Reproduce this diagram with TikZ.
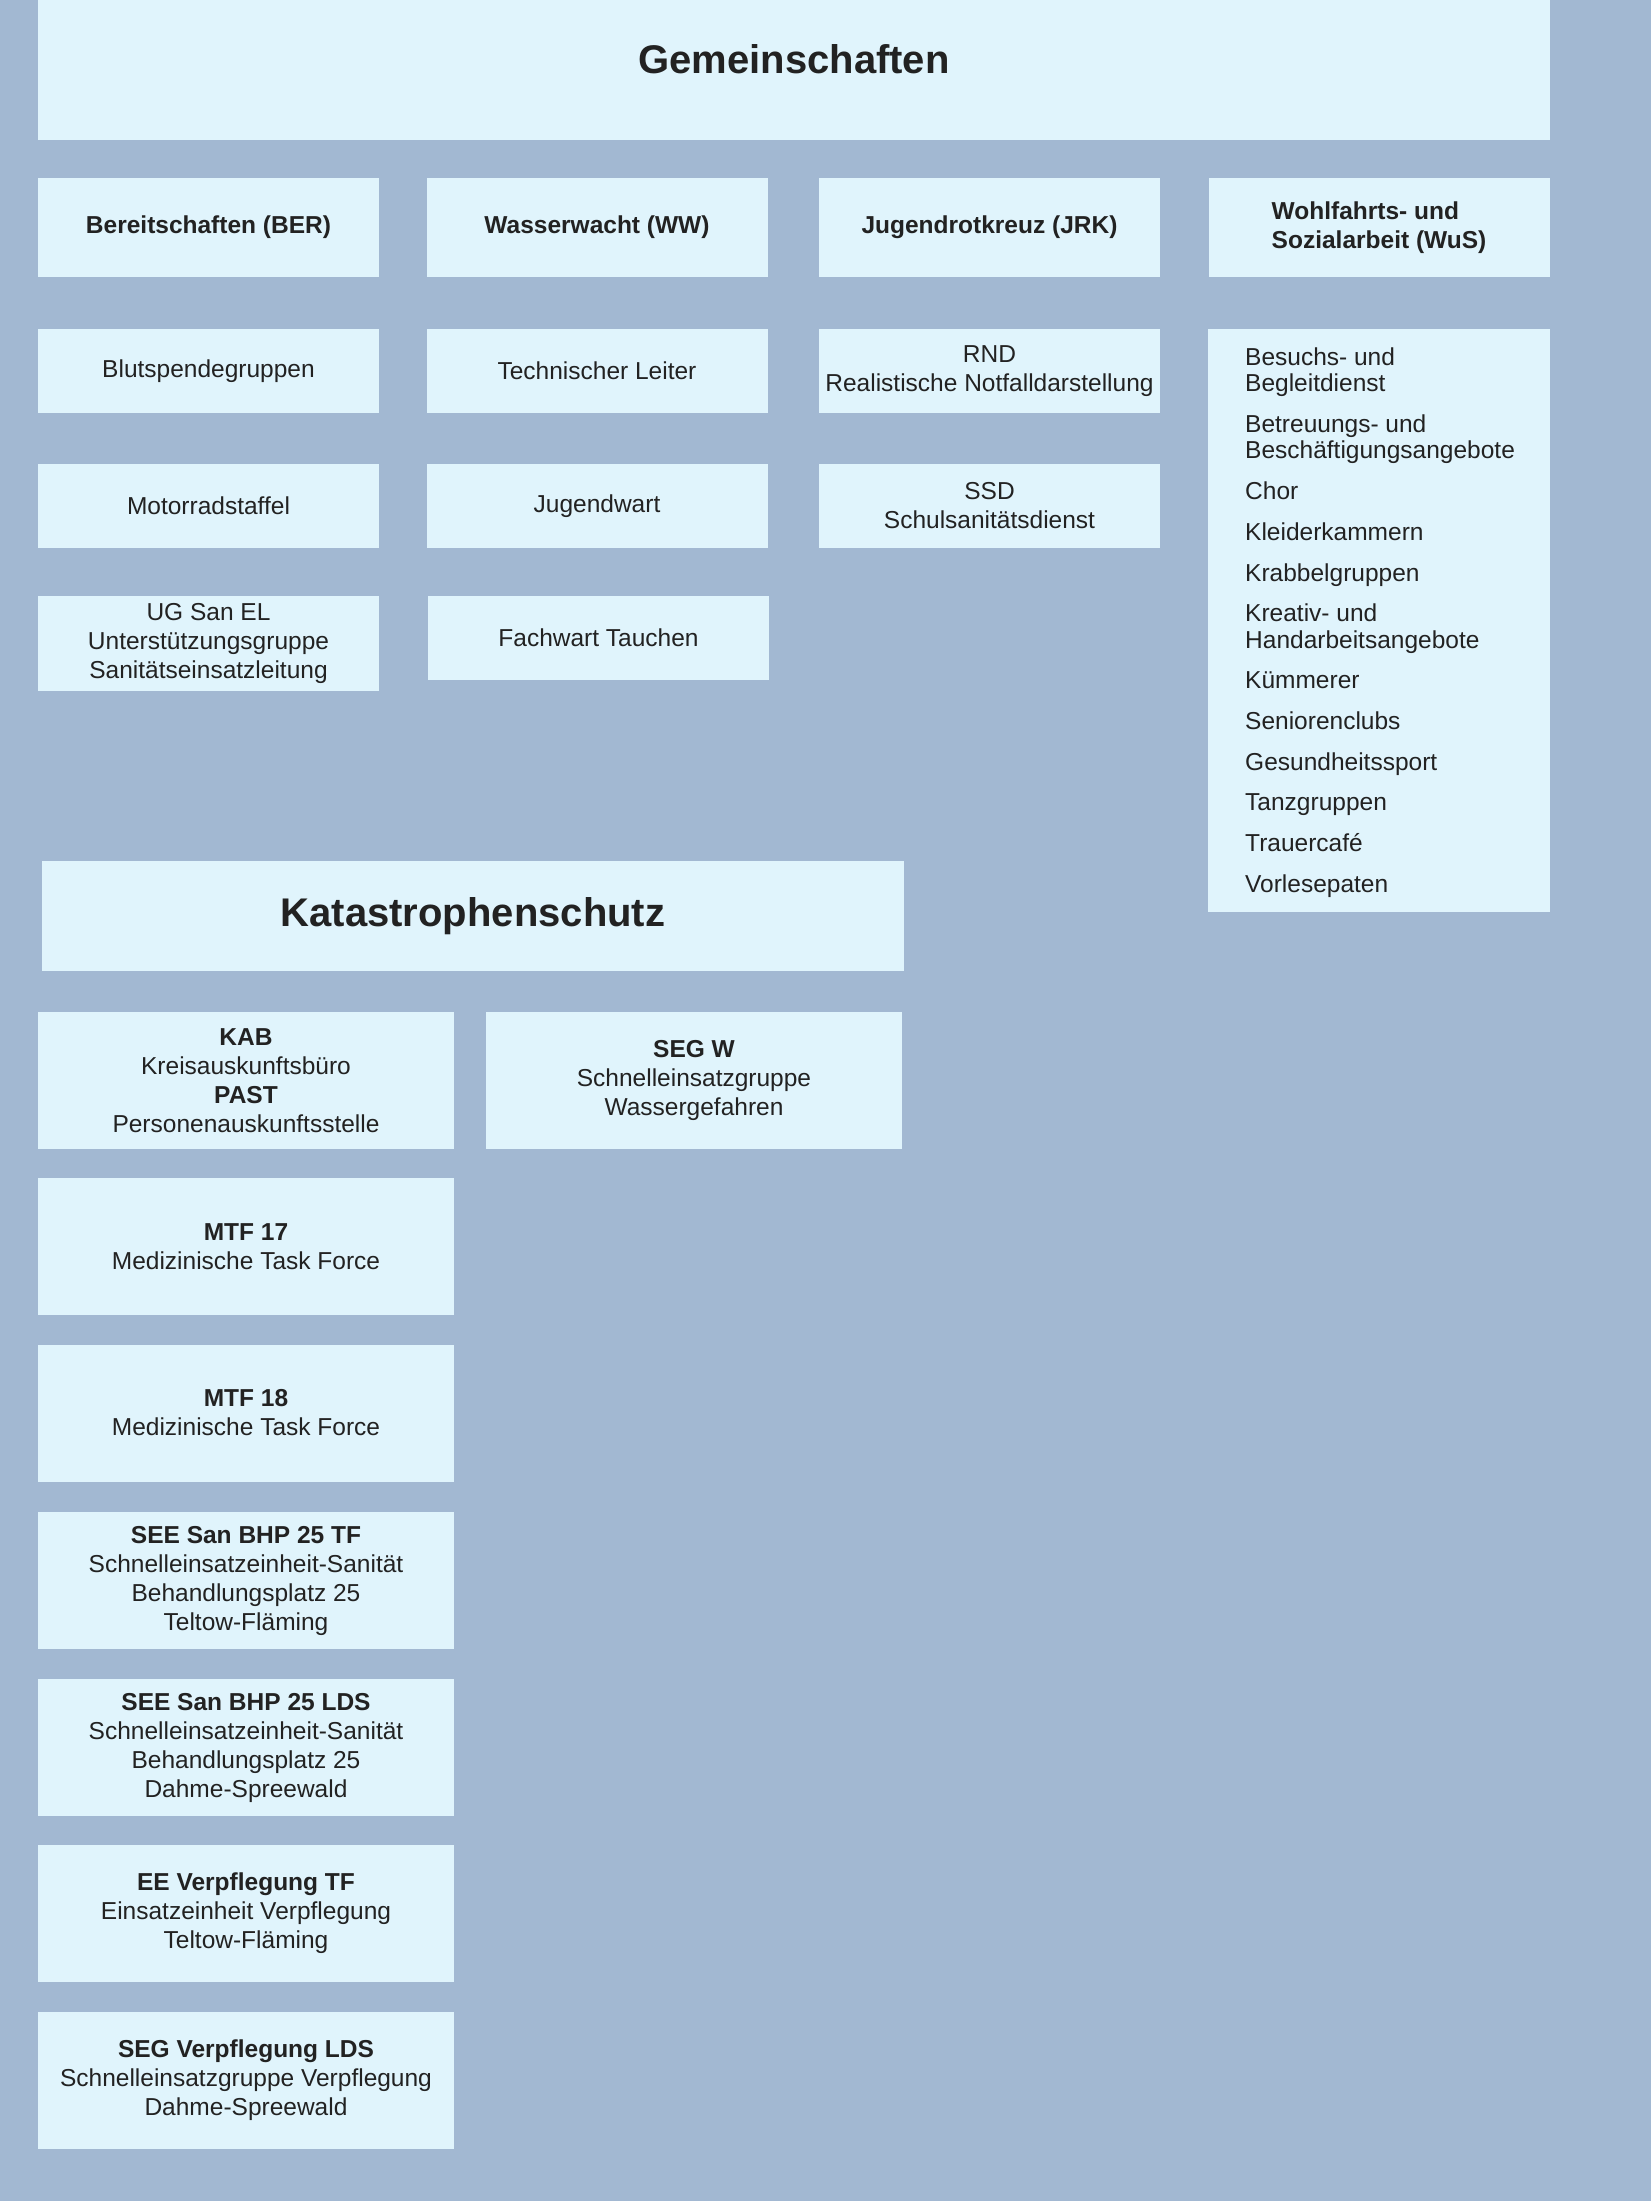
\documentclass[tikz,border=0pt]{standalone}
\usepackage{fontspec}
\setmainfont{Liberation Sans}
\definecolor{bgc}{RGB}{162,184,210}
\definecolor{boxc}{RGB}{224,244,252}
\definecolor{txtc}{RGB}{34,34,34}
\tikzset{
  body/.style={font=\fontsize{24.5}{29}\selectfont, text=txtc},
  cell/.style={body, fill=boxc, inner sep=0pt, align=center},
  hbox/.style={cell, minimum width=341pt, minimum height=99pt},
  sbox/.style={cell, minimum width=341pt, minimum height=84pt},
  kbox/.style={cell, minimum width=416pt, minimum height=137pt},
  titletext/.style={font=\bfseries\fontsize{40}{46}\selectfont, text=txtc, inner sep=0pt},
  listtext/.style={font=\fontsize{24.5}{26.4}\selectfont, text=txtc, inner sep=0pt, align=left}
}
\begin{document}
\begin{tikzpicture}[x=1pt,y=-1pt]
\useasboundingbox (0,0) rectangle (1651,2201);
\fill[bgc] (0,0) rectangle (1651,2201);

% Gemeinschaften
\node[cell, minimum width=1512pt, minimum height=140pt] (gem) at (794,70) {};
\node[titletext, anchor=base] (gemt) at (794,73) {Gemeinschaften};

% row 2 headings
\node[hbox] (ber) at (208.5,227.5) {\textbf{Bereitschaften (BER)}};
\node[hbox] (ww)  at (597,227.5)   {\textbf{Wasserwacht (WW)}};
\node[hbox] (jrk) at (989.5,227.5) {\textbf{Jugendrotkreuz (JRK)}};
\node[hbox, align=left] (wus) at (1379,227.5) {\textbf{Wohlfahrts- und}\\\textbf{Sozialarbeit (WuS)}};

% row 3
\node[sbox] (blut) at (208.5,371) {Blutspendegruppen};
\node[sbox] (tl)   at (597,371)   {Technischer Leiter};
\node[sbox] (rnd)  at (989.5,371) {RND\\Realistische Notfalldarstellung};

% row 4
\node[sbox] (moto) at (208.5,506) {Motorradstaffel};
\node[sbox] (jw)   at (597,506)   {Jugendwart};
\node[sbox] (ssd)  at (989.5,506) {SSD\\Schulsanitätsdienst};

% row 5
\node[sbox, minimum height=95pt] (ug) at (208.5,643.5) {UG San EL\\Unterstützungsgruppe\\Sanitätseinsatzleitung};
\node[sbox] (ft) at (598.5,638) {Fachwart Tauchen};

% WuS list
\node[cell, minimum width=342pt, minimum height=583pt] (wusl) at (1379,620.5) {};
\node[listtext, anchor=north west] (wust) at (1245,347.5) {%
Besuchs- und\\Begleitdienst\\[14.3pt]
Betreuungs- und\\Beschäftigungsangebote\\[14.3pt]
Chor\\[14.3pt]
Kleiderkammern\\[14.3pt]
Krabbelgruppen\\[14.3pt]
Kreativ- und\\Handarbeitsangebote\\[14.3pt]
Kümmerer\\[14.3pt]
Seniorenclubs\\[14.3pt]
Gesundheitssport\\[14.3pt]
Tanzgruppen\\[14.3pt]
Trauercafé\\[14.3pt]
Vorlesepaten};

% Katastrophenschutz
\node[cell, minimum width=862pt, minimum height=110pt] (kat) at (473,916) {};
\node[titletext] (katt) at (473,916) {Katastrophenschutz};

\node[kbox] (kab)  at (246,1080.5) {\textbf{KAB}\\Kreisauskunftsbüro\\\textbf{PAST}\\Personenauskunftsstelle};
\node[kbox] (segw) at (694,1080.5) {\textbf{SEG W}\\Schnelleinsatzgruppe\\Wassergefahren};
\node[kbox] (mtf17) at (246,1246.5) {\textbf{MTF 17}\\Medizinische Task Force};
\node[kbox] (mtf18) at (246,1413) {\textbf{MTF 18}\\Medizinische Task Force};
\node[kbox] (seetf) at (246,1580.5) {\textbf{SEE San BHP 25 TF}\\Schnelleinsatzeinheit-Sanität\\Behandlungsplatz 25\\Teltow-Fläming};
\node[kbox] (seelds) at (246,1747.5) {\textbf{SEE San BHP 25 LDS}\\Schnelleinsatzeinheit-Sanität\\Behandlungsplatz 25\\Dahme-Spreewald};
\node[kbox] (eetf) at (246,1913.5) {\textbf{EE Verpflegung TF}\\Einsatzeinheit Verpflegung\\Teltow-Fläming};
\node[kbox] (segv) at (246,2080.5) {\textbf{SEG Verpflegung LDS}\\Schnelleinsatzgruppe Verpflegung\\Dahme-Spreewald};
\end{tikzpicture}
\end{document}
